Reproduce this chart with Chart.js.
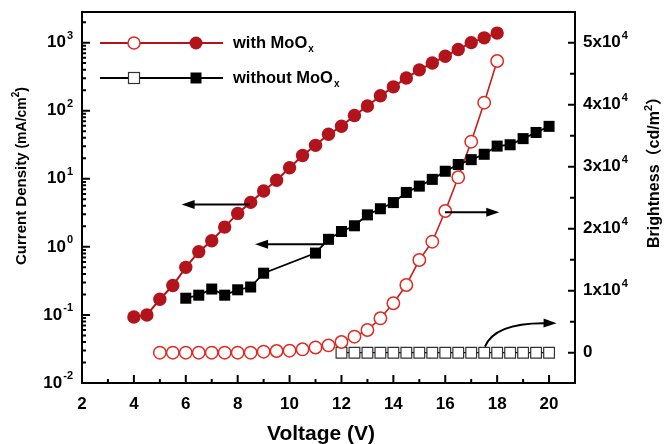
<!DOCTYPE html>
<html>
<head>
<meta charset="utf-8">
<script src="https://cdn.jsdelivr.net/npm/chart.js@4/dist/chart.umd.min.js"></script>
<style>
  html, body { margin: 0; padding: 0; background: #fff; }
  canvas { display: block; }
</style>
</head>
<body>
<canvas id="Chart" width="664" height="444"></canvas>
<script>
// current density, with MoOx (mA/cm2)
const vJWith = [4, 4.5, 5, 5.5, 6, 6.5, 7, 7.5, 8, 8.5, 9, 9.5, 10, 10.5, 11, 11.5, 12, 12.5, 13, 13.5, 14, 14.5, 15, 15.5, 16, 16.5, 17, 17.5, 18];
const jWith = [0.093, 0.10, 0.17, 0.27, 0.50, 0.85, 1.23, 1.95, 3.1, 4.5, 6.6, 9.5, 14.5, 22, 31, 45, 59, 85, 117, 166, 224, 302, 398, 501, 631, 794, 1000, 1175, 1380];

// current density, without MoOx
const vJWithout = [6, 6.5, 7, 7.5, 8, 8.5, 9, 11, 11.5, 12, 12.5, 13, 13.5, 14, 14.5, 15, 15.5, 16, 16.5, 17, 17.5, 18, 18.5, 19, 19.5, 20];
const jWithout = [0.176, 0.195, 0.24, 0.195, 0.234, 0.257, 0.41, 0.81, 1.29, 1.68, 2.04, 2.95, 3.63, 4.47, 6.3, 7.8, 9.8, 12.9, 16.2, 19.1, 22.9, 30.2, 31.6, 38.9, 47.9, 58.9];

// brightness, with MoOx (cd/m2)
const vLWith = [5, 5.5, 6, 6.5, 7, 7.5, 8, 8.5, 9, 9.5, 10, 10.5, 11, 11.5, 12, 12.5, 13, 13.5, 14, 14.5, 15, 15.5, 16, 16.5, 17, 17.5, 18];
const lWith = [0, 0, 0, 0, 0, 0, 0, 0, 160, 270, 320, 550, 840, 1180, 1720, 2580, 3660, 5550, 7970, 10920, 14950, 17900, 22850, 28290, 34030, 40320, 47050];

// brightness, without MoOx
const vLWithout = [12, 12.5, 13, 13.5, 14, 14.5, 15, 15.5, 16, 16.5, 17, 17.5, 18, 18.5, 19, 19.5, 20];
const lWithout = [0, 0, 0, 0, 0, 0, 0, 0, 0, 0, 0, 0, 0, 0, 0, 0, 0];

// tick labels
const xTicks = [2, 4, 6, 8, 10, 12, 14, 16, 18, 20];
const leftTicks = [0.01, 0.1, 1, 10, 100, 1000];
const leftExp = ['-2', '-1', '0', '1', '2', '3'];
const rightTicks = [0, 10000, 20000, 30000, 40000, 50000];
const rightBase = ['0', '1x10', '2x10', '3x10', '4x10', '5x10'];

const RED = '#b3131b';
const RED_OPEN = '#e02a22';
const FAMILY = '"Liberation Sans", Arial, "Noto Sans CJK SC", sans-serif';
const font = (size, w = 'bold') => w + ' ' + size + 'px ' + FAMILY;

const pts = (xs, ys) => ys.map((y, i) => ({ x: xs[i], y: y }));

// arrows in data units: [x, y] pairs, axis = which y scale
const arrows = [
    { axis: 'y', from: [8.47, 4.2], to: [5.84, 4.2] },
    { axis: 'y', from: [11.29, 1.09], to: [8.67, 1.09] },
    { axis: 'y2', from: [15.99, 22640], to: [18.08, 22640] },
    { axis: 'y2', from: [17.53, 965], ctrl: [17.92, 4950], to: [20.29, 4740] }
];

function arrowHead(ctx, tx, ty, ang) {
    const len = 13, half = 4.5;
    ctx.beginPath();
    ctx.moveTo(tx, ty);
    ctx.lineTo(tx - len * Math.cos(ang) + half * Math.sin(ang), ty - len * Math.sin(ang) - half * Math.cos(ang));
    ctx.lineTo(tx - len * Math.cos(ang) - half * Math.sin(ang), ty - len * Math.sin(ang) + half * Math.cos(ang));
    ctx.closePath();
    ctx.fill();
}

function supText(ctx, base, exp, x, y, align) {
    ctx.font = font(17);
    const wb = ctx.measureText(base).width;
    ctx.font = font(11);
    const we = exp ? ctx.measureText(exp).width + 1 : 0;
    let x0 = align === 'right' ? x - wb - we : x;
    ctx.textAlign = 'left';
    ctx.textBaseline = 'middle';
    ctx.font = font(17);
    ctx.fillText(base, x0, y);
    if (exp) {
        ctx.font = font(11);
        ctx.fillText(exp, x0 + wb + 1, y - 7);
    }
}

// text run made of pieces [text, size, dy]
function richText(ctx, parts, x, y) {
    ctx.textAlign = 'left';
    ctx.textBaseline = 'middle';
    parts.forEach(p => {
        ctx.font = font(p[1]);
        ctx.fillText(p[0], x, y + p[2]);
        x += ctx.measureText(p[0]).width;
    });
}

const decor = {
    id: 'decor',
    afterDatasetsDraw(chart) {
        const { ctx, scales } = chart;
        const xs = scales.x;
        ctx.save();
        ctx.strokeStyle = '#000';
        ctx.fillStyle = '#000';
        ctx.lineWidth = 2;
        arrows.forEach(a => {
            const ys = scales[a.axis];
            const fx = xs.getPixelForValue(a.from[0]), fy = ys.getPixelForValue(a.from[1]);
            const tx = xs.getPixelForValue(a.to[0]), ty = ys.getPixelForValue(a.to[1]);
            ctx.beginPath();
            ctx.moveTo(fx, fy);
            let ang;
            if (a.ctrl) {
                const cx = xs.getPixelForValue(a.ctrl[0]), cy = ys.getPixelForValue(a.ctrl[1]);
                ctx.quadraticCurveTo(cx, cy, tx - 8, ty);
                ang = Math.atan2(ty - cy, tx - cx);
            } else {
                ang = Math.atan2(ty - fy, tx - fx);
                ctx.lineTo(tx - 8 * Math.cos(ang), ty - 8 * Math.sin(ang));
            }
            ctx.stroke();
            arrowHead(ctx, tx, ty, ang);
        });
        ctx.restore();
    },
    afterDraw(chart) {
        const { ctx, chartArea: a, scales } = chart;
        const xs = scales.x, yl = scales.y, yr = scales.y2;
        ctx.save();
        ctx.strokeStyle = '#000';
        ctx.fillStyle = '#000';

        // frame
        ctx.lineWidth = 2;
        ctx.strokeRect(a.left, a.top, a.right - a.left, a.bottom - a.top);

        // x ticks
        ctx.lineWidth = 2;
        ctx.beginPath();
        for (let v = 2; v <= 21; v++) {
            const px = xs.getPixelForValue(v);
            const len = v % 2 === 0 ? 8 : 4;
            ctx.moveTo(px, a.bottom);
            ctx.lineTo(px, a.bottom - len);
        }
        // left ticks
        leftTicks.forEach(d => {
            for (let k = 1; k <= 9; k++) {
                const v = d * k;
                if (v > yl.max) break;
                const py = yl.getPixelForValue(v);
                ctx.moveTo(a.left, py);
                ctx.lineTo(a.left + (k === 1 ? 8 : 4), py);
            }
        });
        // right ticks
        for (let v = 0; v <= yr.max; v += 5000) {
            const py = yr.getPixelForValue(v);
            ctx.moveTo(a.right, py);
            ctx.lineTo(a.right - (v % 10000 === 0 ? 7 : 5), py);
        }
        ctx.stroke();

        // tick labels
        ctx.font = font(17);
        ctx.textAlign = 'center';
        ctx.textBaseline = 'middle';
        xTicks.forEach(v => ctx.fillText(String(v), xs.getPixelForValue(v), a.bottom + 21));
        leftTicks.forEach((v, i) => supText(ctx, '10', leftExp[i], a.left - 9, yl.getPixelForValue(v), 'right'));
        rightTicks.forEach((v, i) => supText(ctx, rightBase[i], i === 0 ? '' : '4', a.right + 8, yr.getPixelForValue(v), 'left'));

        // axis titles
        ctx.font = font(21);
        ctx.textAlign = 'center';
        ctx.textBaseline = 'middle';
        ctx.fillText('Voltage (V)', 321, a.bottom + 51);

        ctx.save();
        ctx.translate(22, 265);
        ctx.rotate(-Math.PI / 2);
        richText(ctx, [['Current Density', 15, 0], [' (mA/cm', 14, 0], ['2', 10, -6], [')', 14, 0]], 0, 0);
        ctx.restore();

        ctx.save();
        ctx.translate(655, 248);
        ctx.rotate(-Math.PI / 2);
        richText(ctx, [['Brightness', 16, 0], ['（cd/m', 16, 0], ['2', 11, -6], ['）', 16, 0]], 0, 0);
        ctx.restore();

        // legend
        const rows = [
            { y: a.top + 31, color: RED, label: 'with MoO', open: 'circle' },
            { y: a.top + 66, color: '#000', label: 'without MoO', open: 'rect' }
        ];
        const lx0 = a.left + 18, lx1 = a.left + 141;
        rows.forEach(r => {
            ctx.strokeStyle = r.color;
            ctx.lineWidth = 2;
            ctx.beginPath();
            ctx.moveTo(lx0, r.y);
            ctx.lineTo(lx1, r.y);
            ctx.stroke();
            const m1 = a.left + 52, m2 = a.left + 114;
            if (r.open === 'circle') {
                ctx.fillStyle = '#fff';
                ctx.strokeStyle = RED_OPEN;
                ctx.lineWidth = 1.5;
                ctx.beginPath(); ctx.arc(m1, r.y, 6, 0, Math.PI * 2); ctx.fill(); ctx.stroke();
                ctx.fillStyle = RED;
                ctx.beginPath(); ctx.arc(m2, r.y, 6.5, 0, Math.PI * 2); ctx.fill();
            } else {
                ctx.fillStyle = '#fff';
                ctx.strokeStyle = '#333';
                ctx.lineWidth = 1.2;
                ctx.fillRect(m1 - 5.5, r.y - 5.5, 11, 11); ctx.strokeRect(m1 - 5.5, r.y - 5.5, 11, 11);
                ctx.fillStyle = '#000';
                ctx.fillRect(m2 - 5.5, r.y - 5.5, 11, 11);
            }
            ctx.fillStyle = '#000';
            ctx.font = font(16.5);
            ctx.textAlign = 'left';
            ctx.textBaseline = 'middle';
            const tx = a.left + 151;
            ctx.fillText(r.label, tx, r.y);
            const w = ctx.measureText(r.label).width;
            ctx.font = font(10);
            ctx.fillText('x', tx + w + 1, r.y + 6);
        });
        ctx.restore();
    }
};

const ctx = document.getElementById('Chart').getContext('2d');
const chart = new Chart(ctx, {
    type: 'scatter',
    data: {
        datasets: [{
            label: 'J with MoOx',
            data: pts(vJWith, jWith),
            yAxisID: 'y',
            showLine: true,
            borderColor: RED,
            borderWidth: 2,
            backgroundColor: RED,
            pointRadius: 6.7,
            pointBorderWidth: 0
        }, {
            label: 'J without MoOx',
            data: pts(vJWithout, jWithout),
            yAxisID: 'y',
            showLine: true,
            borderColor: '#000',
            borderWidth: 1.8,
            backgroundColor: '#000',
            pointStyle: 'rect',
            pointRadius: 7.8,
            pointBorderWidth: 0
        }, {
            label: 'L with MoOx',
            data: pts(vLWith, lWith),
            yAxisID: 'y2',
            showLine: true,
            borderColor: '#c81e1e',
            borderWidth: 1.6,
            backgroundColor: '#fff',
            pointBorderColor: RED_OPEN,
            pointRadius: 6.2,
            pointBorderWidth: 1.5
        }, {
            label: 'L without MoOx',
            data: pts(vLWithout, lWithout),
            yAxisID: 'y2',
            showLine: true,
            borderColor: '#000',
            borderWidth: 1.2,
            backgroundColor: '#fff',
            pointBorderColor: '#333',
            pointStyle: 'rect',
            pointRadius: 7.6,
            pointBorderWidth: 1.2
        }]
    },
    options: {
        responsive: false,
        animation: false,
        devicePixelRatio: 1,
        layout: { padding: { top: 12, left: 0, right: 0, bottom: 0 } },
        plugins: { legend: { display: false }, tooltip: { enabled: false } },
        scales: {
            x: {
                type: 'linear', min: 2, max: 21,
                ticks: { display: false }, grid: { display: false }, border: { display: false },
                afterFit: s => { s.height = 61; }
            },
            y: {
                type: 'logarithmic', position: 'left', min: 0.01, max: 2818,
                ticks: { display: false }, grid: { display: false }, border: { display: false },
                afterFit: s => { s.width = 82; }
            },
            y2: {
                type: 'linear', position: 'right', min: -4890, max: 54950,
                ticks: { display: false }, grid: { display: false }, border: { display: false },
                afterFit: s => { s.width = 89; }
            }
        }
    },
    plugins: [decor]
});
</script>
</body>
</html>
